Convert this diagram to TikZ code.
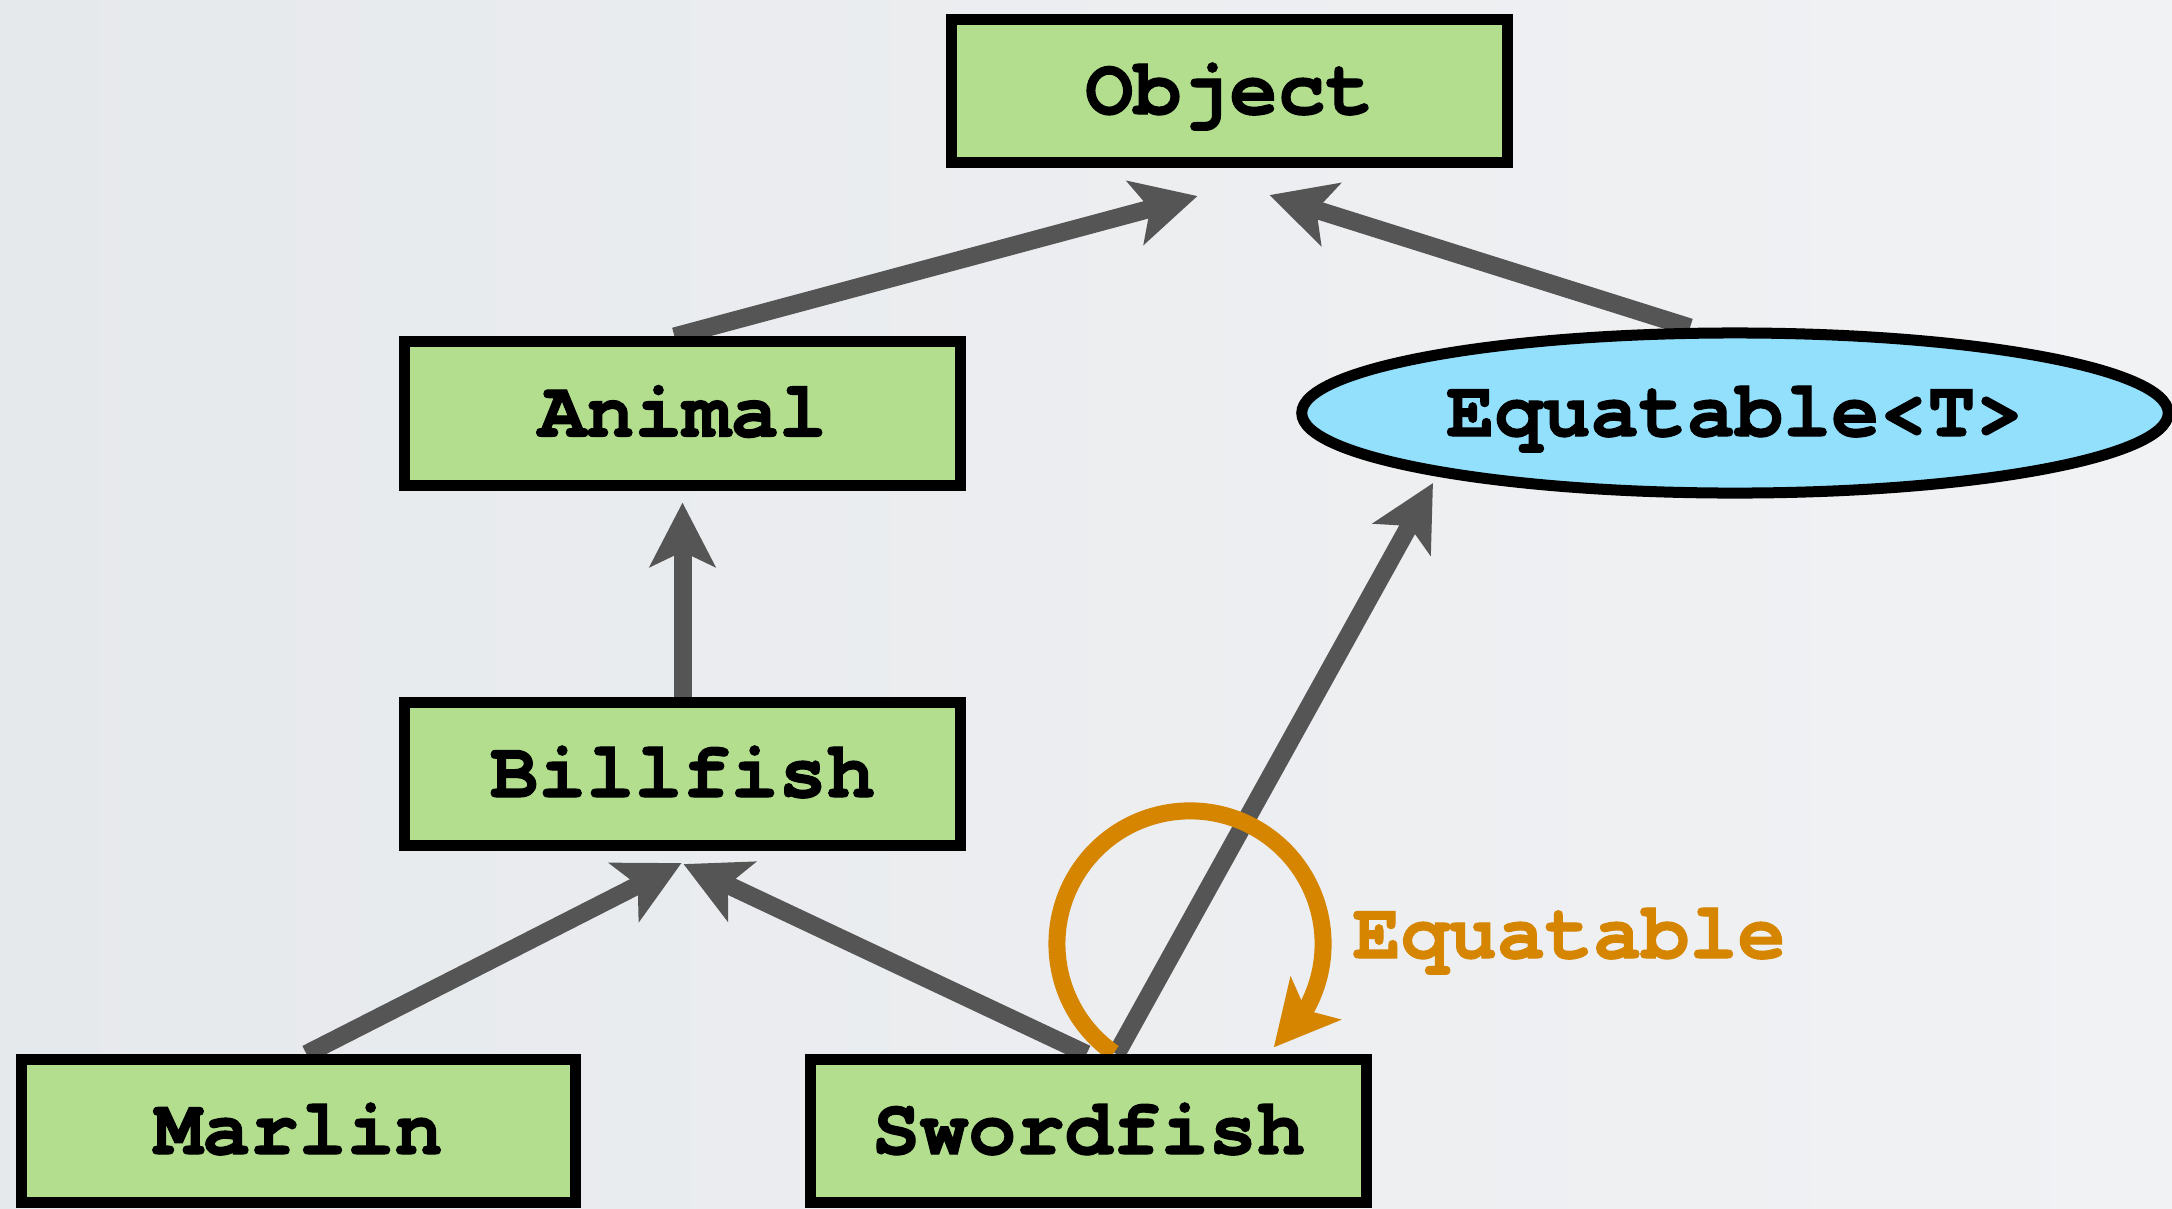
\documentclass[tikz,border=0pt]{standalone}
\usepackage{fontspec}
\IfFontExistsTF{TeX Gyre Cursor}
  {\setmonofont[Ligatures=NoCommon, BoldFeatures={FakeBold=1.3}]{TeX Gyre Cursor}}
  {\setmonofont[Ligatures=NoCommon]{Liberation Mono}}
\usetikzlibrary{arrows.meta,bending,calc,shapes.geometric}

\definecolor{bgleft}{HTML}{E6E9EC}
\definecolor{bgright}{HTML}{F1F2F4}
\definecolor{classgreen}{HTML}{B2DE8E}
\definecolor{protoblue}{HTML}{93E0FC}
\definecolor{conformorange}{HTML}{D68500}
\definecolor{edgegray}{HTML}{555555}

\newcommand\codefont{\ttfamily\bfseries\fontsize{22.8}{27}\selectfont}

\pgfdeclarelayer{bg}
\pgfdeclarelayer{edges}
\pgfsetlayers{bg,edges,main}

\tikzset{
  classbox/.style={draw=black, line width=0.11cm, fill=classgreen,
    minimum width=5.55cm, minimum height=1.43cm, inner sep=0pt,
    font=\codefont, text height=0.46cm, text depth=0pt},
  protocol/.style={ellipse, draw=black, line width=0.11cm, fill=protoblue,
    minimum width=8.66cm, minimum height=1.6cm, inner sep=0pt,
    font=\codefont, text height=0.46cm, text depth=0pt},
  inherit/.style={draw=edgegray, line width=0.18cm,
    -{Stealth[length=0.64cm, width=0.65cm, inset=0.15cm]}},
  conform/.style={draw=conformorange, line width=0.17cm,
    -{Stealth[length=0.64cm, width=0.65cm, inset=0.15cm, flex]}},
  looplabel/.style={font=\codefont, text=conformorange, inner sep=0pt, anchor=base west}
}

\begin{document}
\begin{tikzpicture}[x=0.01cm, y=-0.01cm]
  \path[use as bounding box] (0,0) rectangle (2172,1208);
  \begin{pgfonlayer}{bg}
    \shade[left color=bgleft, right color=bgright] (0,0) rectangle (2172,1208);
  \end{pgfonlayer}

  % type hierarchy
  \node[classbox] (obj)      at (1229.5,91)  {Object};
  \node[classbox] (animal)   at (682.5,413.5) {Animal};
  \node[classbox] (billfish) at (682.5,774)  {Billfish};
  \node[classbox, minimum width=5.53cm] (marlin) at (298.5,1131) {Marlin};
  \node[classbox] (sword)    at (1088.5,1131) {Swordfish};
  \node[protocol] (eq)       at (1735,413)   {Equatable<T>};

  % free ends of the connectors
  \coordinate (objL)  at ($(obj.south)+(-32,28)$);
  \coordinate (objR)  at ($(obj.south)+(40,27)$);
  \coordinate (animB) at ($(animal.south)+(0,12)$);
  \coordinate (billL) at ($(billfish.south)+(-1,12)$);
  \coordinate (billR) at ($(billfish.south)+(1,13)$);
  \coordinate (eqB)   at ($(eq.center)+(-302,70)$);
  \coordinate (loopS) at ($(sword.north)+(25.2,-1)$);

  \begin{pgfonlayer}{edges}
    % inheritance / conformance arrows
    \draw[inherit] ($(animal.north)+(-8,0)$) -- (objL);
    \draw[inherit] ($(eq.north)+(-45,0)$) -- (objR);
    \draw[inherit] (billfish.north) -- (animB);
    \draw[inherit] ($(marlin.north)+(8,0)$) -- (billL);
    \draw[inherit] ($(sword.north)+(-2,0)$) -- (billR);
    \draw[inherit] ($(sword.north)+(28,0)$) -- (eqB);
    % self-conformance loop, drawn over the straight arrows
    \draw[conform] (loopS) arc[start angle=235, end angle=-51, radius=1.33cm];
  \end{pgfonlayer}

  \node[looplabel] (eqlabel) at (1352,958) {Equatable};
\end{tikzpicture}
\end{document}
